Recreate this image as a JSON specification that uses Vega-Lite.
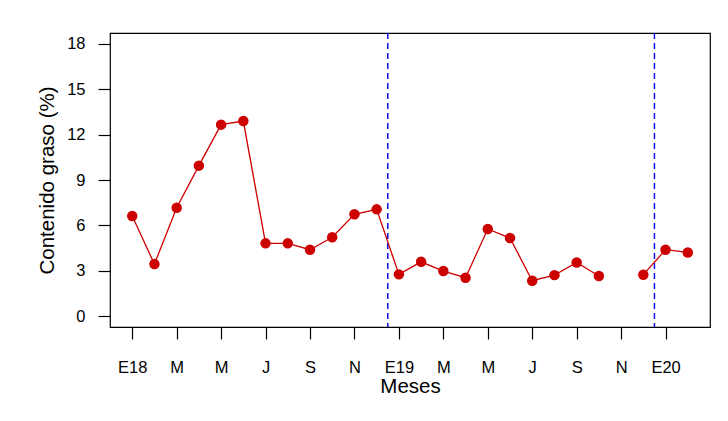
{
  "$schema": "https://vega.github.io/schema/vega-lite/v6.json",
  "autosize": "none",
  "width": 600,
  "height": 294,
  "padding": {"left": 110, "top": 33, "right": 18, "bottom": 94},
  "background": "white",
  "config": {
    "font": "Liberation Sans",
    "view": {"stroke": "black", "strokeWidth": 1.2},
    "axis": {
      "grid": false,
      "domain": false,
      "tickColor": "black",
      "tickSize": 12,
      "tickWidth": 1.2,
      "labelColor": "black",
      "labelFont": "Liberation Sans",
      "labelFontSize": 16.5,
      "titleFont": "Liberation Sans",
      "titleFontSize": 20.5,
      "titleFontWeight": "normal",
      "titleColor": "black"
    }
  },
  "datasets": {
    "grasa": [
      {"idx": 1, "mes": "2018-01", "grasa": 6.62},
      {"idx": 2, "mes": "2018-02", "grasa": 3.44},
      {"idx": 3, "mes": "2018-03", "grasa": 7.17},
      {"idx": 4, "mes": "2018-04", "grasa": 9.95},
      {"idx": 5, "mes": "2018-05", "grasa": 12.66},
      {"idx": 6, "mes": "2018-06", "grasa": 12.9},
      {"idx": 7, "mes": "2018-07", "grasa": 4.81},
      {"idx": 8, "mes": "2018-08", "grasa": 4.81},
      {"idx": 9, "mes": "2018-09", "grasa": 4.39},
      {"idx": 10, "mes": "2018-10", "grasa": 5.21},
      {"idx": 11, "mes": "2018-11", "grasa": 6.73},
      {"idx": 12, "mes": "2018-12", "grasa": 7.06},
      {"idx": 13, "mes": "2019-01", "grasa": 2.76},
      {"idx": 14, "mes": "2019-02", "grasa": 3.59},
      {"idx": 15, "mes": "2019-03", "grasa": 2.98},
      {"idx": 16, "mes": "2019-04", "grasa": 2.54},
      {"idx": 17, "mes": "2019-05", "grasa": 5.76},
      {"idx": 18, "mes": "2019-06", "grasa": 5.16},
      {"idx": 19, "mes": "2019-07", "grasa": 2.34},
      {"idx": 20, "mes": "2019-08", "grasa": 2.71},
      {"idx": 21, "mes": "2019-09", "grasa": 3.55},
      {"idx": 22, "mes": "2019-10", "grasa": 2.65},
      {"idx": 23, "mes": "2019-11", "grasa": null},
      {"idx": 24, "mes": "2019-12", "grasa": 2.74},
      {"idx": 25, "mes": "2020-01", "grasa": 4.39},
      {"idx": 26, "mes": "2020-02", "grasa": 4.21}
    ],
    "cortes": [{"pos": 12.5}, {"pos": 24.5}]
  },
  "layer": [
    {
      "data": {"name": "cortes"},
      "mark": {"type": "rule", "color": "#1010F0", "strokeDash": [6, 4], "strokeWidth": 1.5},
      "encoding": {
        "x": {"field": "pos", "type": "quantitative"}
      }
    },
    {
      "data": {"name": "grasa"},
      "mark": {"type": "line", "color": "#CD0000", "strokeWidth": 1.3},
      "encoding": {
        "x": {"field": "idx", "type": "quantitative"},
        "y": {"field": "grasa", "type": "quantitative"}
      }
    },
    {
      "data": {"name": "grasa"},
      "mark": {"type": "point", "filled": true, "color": "#CD0000", "opacity": 1, "size": 110},
      "encoding": {
        "x": {
          "field": "idx",
          "type": "quantitative",
          "scale": {"domain": [0, 27], "nice": false, "zero": false},
          "axis": {
            "title": "Meses",
            "values": [1,2,3,4,5,6,7,8,9,10,11,12,13,14,15,16,17,18,19,20,21,22,23,24,25,26],
            "labelExpr": "['E18','','M','','M','','J','','S','','N','','E19','','M','','M','','J','','S','','N','','E20',''][datum.value-1]",
            "labelOverlap": false,
            "labelFlush": false,
            "labelPadding": 20,
            "titlePadding": 1
          }
        },
        "y": {
          "field": "grasa",
          "type": "quantitative",
          "scale": {"domain": [-0.72, 18.72], "nice": false, "zero": false},
          "axis": {
            "title": "Contenido graso (%)",
            "values": [0, 3, 6, 9, 12, 15, 18],
            "labelPadding": 13,
            "titlePadding": 9
          }
        }
      }
    }
  ]
}
